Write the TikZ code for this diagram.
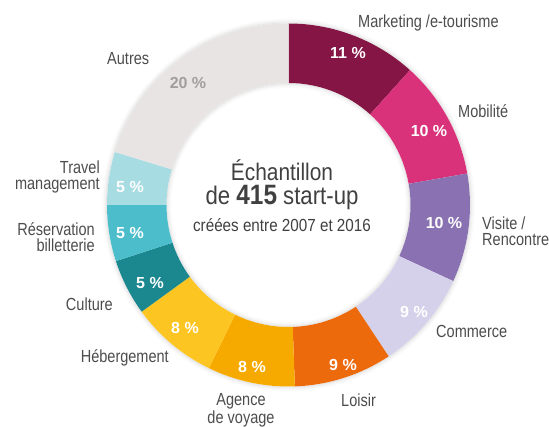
\documentclass[tikz,border=0pt]{standalone}
\usepackage{fontspec}
\setmainfont{Liberation Sans}[FakeStretch=0.83]
\newfontfamily\pctfont{Liberation Sans}
\newfontfamily\centrefont{Liberation Sans}[FakeStretch=0.87]
\usepackage{tikz}
\usepackage{xcolor}
\usetikzlibrary{positioning}
\definecolor{marketing}{RGB}{132, 21, 69}
\definecolor{mobilite}{RGB}{217, 50, 123}
\definecolor{visite}{RGB}{138, 113, 177}
\definecolor{commerce}{RGB}{214, 209, 234}
\definecolor{loisir}{RGB}{236, 106, 12}
\definecolor{agence}{RGB}{246, 170, 0}
\definecolor{hebergement}{RGB}{252, 197, 33}
\definecolor{culture}{RGB}{27, 135, 143}
\definecolor{reservation}{RGB}{75, 189, 203}
\definecolor{travel}{RGB}{168, 220, 227}
\definecolor{autres}{RGB}{233, 228, 228}
\definecolor{labeltext}{RGB}{77, 77, 77}
\definecolor{centertext}{RGB}{64, 64, 64}
\definecolor{softgrey}{RGB}{163, 158, 158}
\tikzstyle{catname} = [
    text=labeltext,
    font=\fontsize{17.5}{16}\selectfont,
    inner sep=0pt
]
\tikzstyle{pct} = [
    text=white,
    font=\pctfont\bfseries\fontsize{16}{16}\selectfont,
    inner sep=0pt
]
\tikzstyle{centre} = [
    text=centertext,
    align=center,
    inner sep=0pt
]

\begin{document}
\begin{tikzpicture}[x=1pt, y=-1pt]
    \useasboundingbox (0,0) rectangle (549,427);
    % ring
    \begin{scope}[shift={(288.5,205)}]
        \foreach \r/\o in {1/0.09, 2/0.06, 3/0.04, 4/0.025, 5/0.012} {
            \draw[black, opacity=\o, line width=1pt] (0,0) circle[radius=181+\r];
            \draw[black, opacity=\o, line width=1pt] (0,0) circle[radius=122.5-\r];
        }
        \foreach \from/\to/\col in {-90/-48/marketing, -48/-10/mobilite, -10/24.8/visite,
            24.8/56.5/commerce, 56.5/88/loisir, 88/116/agence, 116/144/hebergement,
            144/162/culture, 162/180/reservation, 180/197/travel, 197/270/autres} {
            \fill[\col] (\from:181.5) arc[start angle=\from, end angle=\to, radius=181.5]
                -- (\to:122) arc[start angle=\to, end angle=\from, radius=122] -- cycle;
        }
    \end{scope}

    % percentages
    \node[pct] (pctmarketing) at (348,53) {11 \%};
    \node[pct] (pctmobilite) at (429,131) {10 \%};
    \node[pct] (pctvisite) at (444,223) {10 \%};
    \node[pct] (pctcommerce) at (414,312) {9 \%};
    \node[pct] (pctloisir) at (343,365) {9 \%};
    \node[pct] (pctagence) at (252,367) {8 \%};
    \node[pct] (pcthebergement) at (185,328) {8 \%};
    \node[pct] (pctculture) at (150,283) {5 \%};
    \node[pct] (pctreservation) at (130,233) {5 \%};
    \node[pct] (pcttravel) at (130,187) {5 \%};
    \node[pct, text=softgrey] (pctautres) at (188,83) {20 \%};

    % category names
    \node[catname, anchor=base west] (lblmarketing) at (358,28) {Marketing /e-tourisme};
    \node[catname, anchor=base west] (lblmobilite) at (458,118) {Mobilité};
    \node[catname, anchor=north west, align=left] (lblvisite) at (482,216.5) {Visite /\\Rencontre};
    \node[catname, anchor=base west] (lblcommerce) at (436,338) {Commerce};
    \node[catname, anchor=base west] (lblloisir) at (341,407) {Loisir};
    \node[catname, anchor=north, align=center] (lblagence) at (241,393.5) {Agence\\de voyage};
    \node[catname, anchor=base east] (lblhebergement) at (169,363) {Hébergement};
    \node[catname, anchor=base east] (lblculture) at (113,311) {Culture};
    \node[catname, anchor=north east, align=right] (lblreservation) at (95,222.5) {Réservation\\billetterie};
    \node[catname, anchor=north east, align=right] (lbltravel) at (100,160.5) {Travel\\management};
    \node[catname, anchor=base west] (lblautres) at (107,65) {Autres};

    % centre
    \node[centre, anchor=south, font=\centrefont\fontsize{24}{24}\selectfont] (sample) at (282,232)
        {Échantillon\\
         {\fontsize{25.5}{25.5}\selectfont de {\bfseries\fontsize{28}{28}\selectfont 415} start-up}\\[3pt]
         {\fontsize{17.5}{17.5}\selectfont créées entre 2007 et 2016}};
\end{tikzpicture}
\end{document}
